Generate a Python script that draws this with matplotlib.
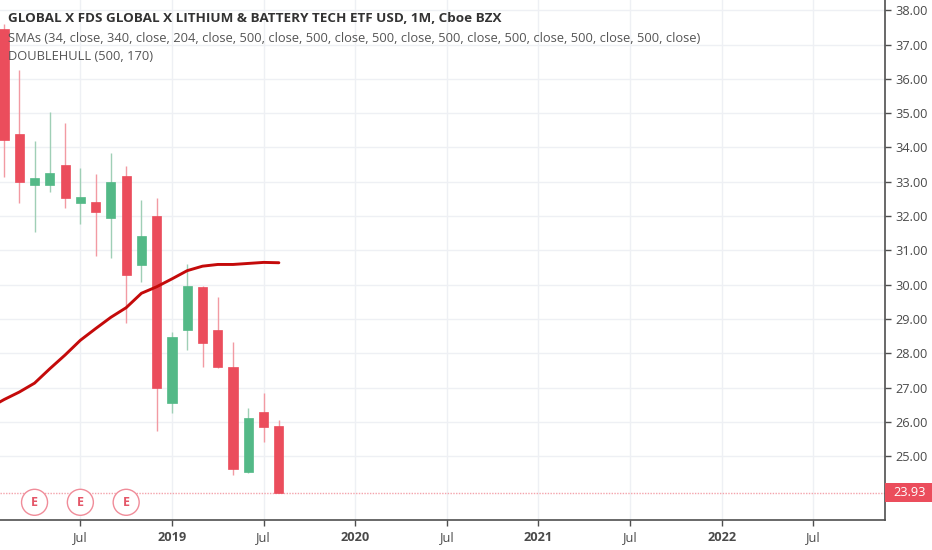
import matplotlib
matplotlib.use("Agg")
import matplotlib.pyplot as plt
from matplotlib.patches import Circle, Rectangle
import numpy as np

# ---- data (monthly candles, month index 1 = Feb 2018) ----
months = list(range(1, 20))
opens  = [37.44, 34.38, 32.92, 32.92, 33.49, 32.39, 32.40, 31.95, 33.17, 30.57,
          32.01, 26.56, 28.67, 29.92, 28.68, 27.59, 24.54, 26.28, 25.89]
highs  = [37.60, 36.26, 34.19, 35.04, 34.70, 33.41, 33.22, 33.83, 33.47, 32.47,
          32.53, 28.63, 30.60, 29.95, 29.65, 28.34, 26.41, 26.83, 26.05]
lows   = [33.14, 32.38, 31.54, 32.71, 32.24, 31.77, 30.83, 30.78, 28.87, 30.08,
          25.73, 26.26, 28.09, 27.59, 27.56, 24.45, 24.50, 25.42, 23.93]
closes = [34.22, 32.98, 33.10, 33.26, 32.52, 32.56, 32.12, 33.00, 30.27, 31.42,
          26.99, 28.48, 29.96, 28.31, 27.61, 24.62, 26.12, 25.86, 23.93]

sma_months = list(range(0, 20))
sma_values = [26.40, 26.65, 26.87, 27.13, 27.55, 27.95, 28.38, 28.72, 29.05, 29.33,
              29.75, 29.94, 30.17, 30.41, 30.54, 30.59, 30.59, 30.62, 30.65, 30.64]

earnings_months = [3, 6, 9]
last_price = 23.93

tick_months = [6, 12, 18, 24, 30, 36, 42, 48, 54]
tick_labels = ["Jul", "2019", "Jul", "2020", "Jul", "2021", "Jul", "2022", "Jul"]
price_ticks = list(range(25, 39))

title1 = "GLOBAL X FDS GLOBAL X LITHIUM & BATTERY TECH ETF USD, 1M, Cboe BZX"
title2 = "SMAs (34, close, 340, close, 204, close, 500, close, 500, close, 500, close, 500, close, 500, close, 500, close, 500, close)"
title3 = "DOUBLEHULL (500, 170)"

UP = "#53b987"
DOWN = "#eb4d5c"
UP_WICK = "#9fcfb6"
DOWN_WICK = "#f29aa3"
AXIS_C = "#4f4f4f"
TEXT_C = "#4a4a4a"
GRID_C = "#eef0f4"

plt.rcParams['font.family'] = ['Open Sans', 'DejaVu Sans']

W, H = 932, 550
fig = plt.figure(figsize=(W / 100, H / 100), dpi=100)
fig.patch.set_facecolor("white")
ax = fig.add_axes([0, 30 / H, 885.3 / W, 520 / H])
ax.set_facecolor("white")

x_lo, x_hi = 0.738, 58.71
y_lo, y_hi = 23.14, 38.30
ax.set_xlim(x_lo, x_hi)
ax.set_ylim(y_lo, y_hi)

# grid
for p in price_ticks:
    ax.axhline(p, color=GRID_C, lw=1, zorder=0)
for m in tick_months:
    ax.axvline(m, color=GRID_C, lw=1, zorder=0)

# candles
for m, o, h, l, c in zip(months, opens, highs, lows, closes):
    up = c >= o
    col = UP if up else DOWN
    wcol = UP_WICK if up else DOWN_WICK
    ax.vlines(m, l, h, color=wcol, lw=1.0, zorder=2)
    bottom = min(o, c)
    height = max(abs(c - o), 0.04)
    ax.bar(m, height, bottom=bottom, width=0.6, color=col, edgecolor=col,
           linewidth=0.5, zorder=3)

# SMA line
ax.plot(sma_months, sma_values, color="#c40a0a", lw=2.1, zorder=4,
        solid_capstyle="round", solid_joinstyle="round")

# last price dotted line
ax.axhline(last_price, color="#f4a3ab", lw=1.0, ls=(0, (1, 1)), zorder=1)

# spines
for s in ["top", "left"]:
    ax.spines[s].set_visible(False)
ax.spines["right"].set_color(AXIS_C)
ax.spines["bottom"].set_color(AXIS_C)
ax.spines["right"].set_linewidth(1.2)
ax.spines["bottom"].set_linewidth(1.2)

ax.yaxis.tick_right()
ax.set_yticks(price_ticks)
ax.set_yticklabels([f"{p:.2f}" for p in price_ticks])
ax.tick_params(axis="y", colors=AXIS_C, labelcolor=TEXT_C, length=4, width=1,
               pad=3, labelsize=9.2)
ax.set_xticks(tick_months)
ax.set_xticklabels(tick_labels)
ax.tick_params(axis="x", colors=AXIS_C, labelcolor=TEXT_C, length=4, width=1,
               pad=4, labelsize=9.2)
for lab in ax.get_xticklabels():
    if lab.get_text().isdigit():
        lab.set_fontweight("bold")

# earnings markers
trans = ax.transData
for m in earnings_months:
    xp, _ = trans.transform((m, y_lo))
    fx = xp / W
    fy = (550 - 502.3) / H
    circ = Circle((xp, 550 - 502.3), 13, transform=None, facecolor="white",
                  edgecolor="#f08c99", lw=1.0, zorder=6)
    fig.patches.append(circ)
    fig.text(fx, fy, "E", ha="center", va="center", color="#e45668",
             fontsize=9, fontweight="bold", zorder=7)

# last price label box
fig.patches.append(Rectangle((885.3, 550 - 501.7), W - 885.3, 18.4, transform=None,
                             facecolor=DOWN, edgecolor="none", zorder=6))
fig.text(893 / W, (550 - 492.5) / H, f"{last_price:.2f}", color="white",
         fontsize=9.2, ha="left", va="center", zorder=7)

# titles
fig.text(8 / W, 1 - 18 / H, title1, ha="left", va="center", fontsize=9.7,
         fontweight="bold", color="#333333")
fig.text(8 / W, 1 - 38 / H, title2, ha="left", va="center", fontsize=9.3,
         color="#555555")
fig.text(8 / W, 1 - 57 / H, title3, ha="left", va="center", fontsize=9.3,
         color="#555555")

fig.savefig("out.png", dpi=100, facecolor="white")
